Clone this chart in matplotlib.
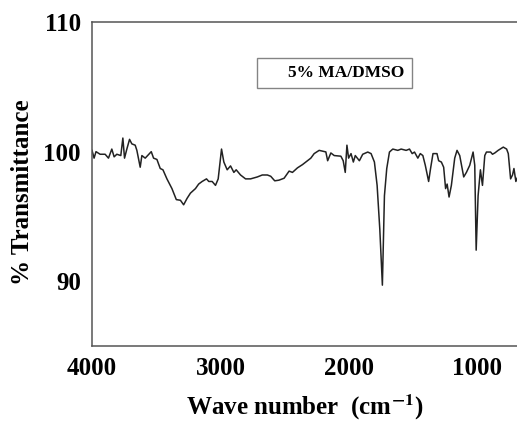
import matplotlib
matplotlib.use("Agg")
import matplotlib.pyplot as plt

plt.rcParams["mathtext.fontset"] = "stix"

# FTIR spectrum, 5% MA/DMSO
wavenumber = [4000, 3984, 3969, 3937, 3898, 3872, 3846, 3828, 3807, 3776,
              3760, 3747, 3729, 3708, 3690, 3664, 3651, 3625, 3612, 3586,
              3539, 3521, 3495, 3469, 3448, 3417, 3378, 3344, 3312, 3287,
              3260, 3234, 3195, 3170, 3143, 3109, 3091, 3065, 3039, 3018,
              2992, 2974, 2948, 2922, 2896, 2878, 2844, 2805, 2766, 2713,
              2675, 2635, 2609, 2578, 2545, 2505, 2466, 2440, 2401, 2362,
              2336, 2297, 2271, 2232, 2180, 2166, 2141, 2115, 2063, 2045,
              2029, 2016, 2003, 1984, 1966, 1951, 1919, 1893, 1854, 1828,
              1802, 1781, 1760, 1740, 1724, 1706, 1685, 1659, 1620, 1594,
              1555, 1529, 1508, 1490, 1464, 1445, 1425, 1406, 1380, 1365,
              1346, 1315, 1302, 1281, 1263, 1248, 1236, 1221, 1203, 1177,
              1159, 1138, 1107, 1086, 1060, 1034, 1021, 1010, 995, 977,
              961, 943, 930, 898, 883, 865, 839, 799, 773, 760,
              742, 727, 716, 701, 687, 672, 660]
transmittance = [100.1, 99.5, 100.0, 99.8, 99.8, 99.5, 100.2, 99.6, 99.8, 99.7,
                 101.05, 99.5, 100.2, 100.95, 100.6, 100.5, 100.1, 98.8, 99.7, 99.5,
                 100.0, 99.5, 99.4, 98.7, 98.6, 97.9, 97.15, 96.3, 96.25, 95.9,
                 96.4, 96.8, 97.15, 97.5, 97.7, 97.9, 97.7, 97.7, 97.4, 97.9,
                 100.2, 99.2, 98.6, 98.9, 98.4, 98.6, 98.2, 97.9, 97.9, 98.05,
                 98.2, 98.2, 98.1, 97.75, 97.8, 97.95, 98.5, 98.4, 98.75, 99.0,
                 99.2, 99.5, 99.85, 100.1, 99.98, 99.3, 99.9, 99.7, 99.65, 99.3,
                 98.4, 100.5, 99.5, 99.85, 99.2, 99.7, 99.3, 99.8, 99.97, 99.85,
                 99.2, 97.4, 94.0, 89.7, 96.6, 98.7, 99.97, 100.2, 100.1, 100.2,
                 100.1, 100.2, 99.85, 99.97, 99.5, 99.85, 99.7, 98.95, 97.7, 98.7,
                 99.85, 99.85, 99.3, 99.2, 98.8, 97.15, 97.5, 96.5, 97.4, 99.5,
                 100.1, 99.7, 98.05, 98.4, 98.95, 99.97, 98.95, 92.4, 96.6, 98.6,
                 97.4, 99.7, 99.97, 99.97, 99.8, 99.9, 100.1, 100.35, 100.2, 99.85,
                 97.9, 98.2, 98.7, 97.7, 98.05, 97.6, 97.9]

yticks = [90, 100, 110]
xticks = [4000, 3000, 2000, 1000]

fig = plt.figure(figsize=(5.17, 4.21), dpi=100)
# right edge of the frame runs past the image, as in the original
ax = fig.add_axes([0.178, 0.178, 0.83, 0.7696])

ax.plot(wavenumber, transmittance, color="#222222", lw=1.1)

ax.set_xlim(4000, 660)
ax.set_ylim(85, 110)
ax.set_xticks(xticks)
ax.set_yticks(yticks)
ax.tick_params(length=0, pad=8)
for lab in ax.get_xticklabels() + ax.get_yticklabels():
    lab.set_fontfamily("Liberation Serif")
    lab.set_fontweight("bold")
    lab.set_fontsize(18)

for s in ["left", "bottom", "top"]:
    ax.spines[s].set_color("#555555")
    ax.spines[s].set_linewidth(1.1)
ax.spines["right"].set_visible(False)

# legend box with empty handle space on the left
h, = ax.plot([], [], color="none")
leg = ax.legend([h], ["5% MA/DMSO"], loc="upper left",
                bbox_to_anchor=(257 / 517, 1 - 58 / 421), bbox_transform=fig.transFigure,
                frameon=True, fancybox=False, handlelength=1.1, handletextpad=0.3,
                borderpad=0.4, borderaxespad=0,
                prop={"family": "Liberation Serif", "weight": "bold", "size": 12.5})
leg.get_frame().set_edgecolor("#666666")
leg.get_frame().set_linewidth(1.0)

fig.text(305 / 517, 1 - 415 / 421, "Wave number  (cm$^{\\mathbf{-1}}$)", ha="center", va="baseline",
         fontfamily="Liberation Serif", fontweight="bold", fontsize=18)
fig.text(23 / 517, 1 - 192 / 421, "% Transmittance", ha="center", va="center", rotation=90,
         fontfamily="Liberation Serif", fontweight="bold", fontsize=18)

fig.savefig("out.png", dpi=100)
